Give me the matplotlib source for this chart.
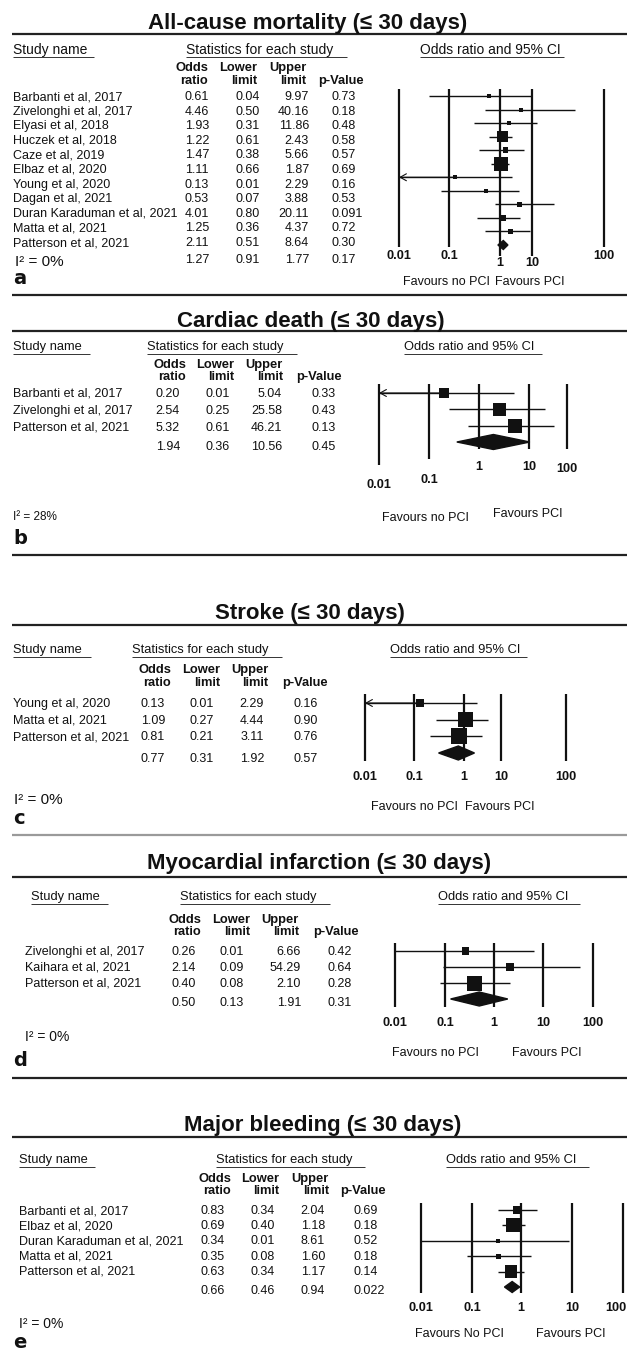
import numpy as np
import matplotlib
matplotlib.use('Agg')
from matplotlib import pyplot as plt
from matplotlib import transforms as mtr

plt.rcParams['font.family'] = ['Liberation Sans', 'DejaVu Sans']

W, H = 627, 1353

# ---------------- data ----------------
ticks = [0.01, 0.1, 1, 10, 100]
tick_labels = ['0.01', '0.1', '1', '10', '100']

title_a = 'All-cause mortality (≤ 30 days)'
names_a = ['Barbanti et al, 2017', 'Zivelonghi et al, 2017', 'Elyasi et al, 2018',
           'Huczek et al, 2018', 'Caze et al, 2019', 'Elbaz et al, 2020',
           'Young et al, 2020', 'Dagan et al, 2021', 'Duran Karaduman et al, 2021',
           'Matta et al, 2021', 'Patterson et al, 2021']
or_a = [0.61, 4.46, 1.93, 1.22, 1.47, 1.11, 0.13, 0.53, 4.01, 1.25, 2.11]
lo_a = [0.04, 0.50, 0.31, 0.61, 0.38, 0.66, 0.01, 0.07, 0.80, 0.36, 0.51]
hi_a = [9.97, 40.16, 11.86, 2.43, 5.66, 1.87, 2.29, 3.88, 20.11, 4.37, 8.64]
p_a = ['0.73', '0.18', '0.48', '0.58', '0.57', '0.69', '0.16', '0.53', '0.091', '0.72', '0.30']
pool_a = [1.27, 0.91, 1.77]
pool_p_a = '0.17'
i2_a = 'I² = 0%'
cut_a = [6]

title_b = 'Cardiac death (≤ 30 days)'
names_b = ['Barbanti et al, 2017', 'Zivelonghi et al, 2017', 'Patterson et al, 2021']
or_b = [0.20, 2.54, 5.32]
lo_b = [0.01, 0.25, 0.61]
hi_b = [5.04, 25.58, 46.21]
p_b = ['0.33', '0.43', '0.13']
pool_b = [1.94, 0.36, 10.56]
pool_p_b = '0.45'
i2_b = 'I² = 28%'
cut_b = [0]

title_c = 'Stroke (≤ 30 days)'
names_c = ['Young et al, 2020', 'Matta et al, 2021', 'Patterson et al, 2021']
or_c = [0.13, 1.09, 0.81]
lo_c = [0.01, 0.27, 0.21]
hi_c = [2.29, 4.44, 3.11]
p_c = ['0.16', '0.90', '0.76']
pool_c = [0.77, 0.31, 1.92]
pool_p_c = '0.57'
i2_c = 'I² = 0%'
cut_c = [0]

title_d = 'Myocardial infarction (≤ 30 days)'
names_d = ['Zivelonghi et al, 2017', 'Kaihara et al, 2021', 'Patterson et al, 2021']
or_d = [0.26, 2.14, 0.40]
lo_d = [0.01, 0.09, 0.08]
hi_d = [6.66, 54.29, 2.10]
p_d = ['0.42', '0.64', '0.28']
pool_d = [0.50, 0.13, 1.91]
pool_p_d = '0.31'
i2_d = 'I² = 0%'
cut_d = []

title_e = 'Major bleeding (≤ 30 days)'
names_e = ['Barbanti et al, 2017', 'Elbaz et al, 2020', 'Duran Karaduman et al, 2021',
           'Matta et al, 2021', 'Patterson et al, 2021']
or_e = [0.83, 0.69, 0.34, 0.35, 0.63]
lo_e = [0.34, 0.40, 0.01, 0.08, 0.34]
hi_e = [2.04, 1.18, 8.61, 1.60, 1.17]
p_e = ['0.69', '0.18', '0.52', '0.18', '0.14']
pool_e = [0.66, 0.46, 0.94]
pool_p_e = '0.022'
i2_e = 'I² = 0%'
cut_e = []

# ---------------- layout (pixels, y from top) ----------------
lay_a = dict(cx=308, ty=24, tline=34, hy=50, hx=[13, 186, 420], hul=[94, 347, 564], hfs=10,
             ch=(68, 81), cr=[208, 257, 306], pvx=318,
             rows=(97, 243), sy=260, nx=13, vr=[209, 260, 309], pxl=331,
             i2=(15, 262, 11), let='a', lx=13, lt=278, sep=(295, '#222'),
             tpx=[399, 449, 500, 532, 604], mrow=(96, 245), ltop=89,
             lbot=[247, 247, 256, 256, 247], laby=[256, 256, 263, 263, 256],
             fav=(446, 282, 530, 282), fav_no='Favours no PCI', dh=9, box=14)
lay_b = dict(cx=311, ty=321, tline=331, hy=347, hx=[13, 147, 404], hul=[90, 297, 542], hfs=9.3,
             ch=(365, 377), cr=[186, 234, 283], pvx=296,
             rows=(394, 428), sy=447, nx=13, vr=[180, 230, 282], pxl=311,
             i2=(13, 517, 8.5), let='b', lx=13, lt=538, sep=(555, '#222'),
             tpx=[379, 429, 479, 529, 567], mrow=(393, 442), ltop=384,
             lbot=[465, 459, 449, 449, 449], laby=[485, 480, 467, 467, 469],
             fav=(425, 518, 528, 514), fav_no='Favours no PCI', dh=15, box=14)
lay_c = dict(cx=310, ty=613, tline=625, hy=650, hx=[13, 132, 390], hul=[91, 282, 527], hfs=9.3,
             ch=(670, 683), cr=[171, 220, 268], pvx=282,
             rows=(704, 737), sy=759, nx=13, vr=[165, 214, 264], pxl=294,
             i2=(14, 800, 11), let='c', lx=13, lt=818, sep=(835, '#9a9a9a'),
             tpx=[365, 414, 464, 501, 566], mrow=(703, 753), ltop=694,
             lbot=[761] * 5, laby=[777] * 5,
             fav=(414, 807, 500, 807), fav_no='Favours no PCI', dh=14, box=16)
lay_d = dict(cx=319, ty=863, tline=877, hy=897, hx=[31, 180, 438], hul=[108, 330, 580], hfs=9.3,
             ch=(920, 932), cr=[201, 250, 299], pvx=313,
             rows=(952, 984), sy=1003, nx=25, vr=[196, 244, 301], pxl=327,
             i2=(25, 1037, 10), let='d', lx=13, lt=1060, sep=(1078, '#222'),
             tpx=[395, 445, 494, 543, 593], mrow=(951, 999), ltop=943,
             lbot=[1007] * 5, laby=[1023] * 5,
             fav=(435, 1053, 547, 1053), fav_no='Favours no PCI', dh=14, box=15)
lay_e = dict(cx=323, ty=1125, tline=1137, hy=1160, hx=[19, 216, 446], hul=[95, 365, 589], hfs=9.3,
             ch=(1179, 1191), cr=[231, 279, 329], pvx=340,
             rows=(1211, 1272), sy=1291, nx=19, vr=[225, 275, 325], pxl=353,
             i2=(19, 1324, 10), let='e', lx=13, lt=1343, sep=None,
             tpx=[421, 472, 521, 572, 623], mrow=(1210, 1287), ltop=1203,
             lbot=[1293] * 5, laby=[1308] * 5,
             fav=(459, 1334, 571, 1334), fav_no='Favours No PCI', dh=11, box=14)

fig = plt.figure(figsize=(W / 100, H / 100), dpi=100)
bg = fig.add_axes([0, 0, 1, 1])
bg.set_xlim(0, W)
bg.set_ylim(H, 0)
bg.axis('off')

INK = '#111111'


def log_funcs(px):
    # piecewise-linear log scale through the drawn decade lines
    dec = np.arange(-2, 3, dtype=float)
    px = np.asarray(px, float)
    xd = np.r_[-10.0, dec, 10.0]
    yd = np.r_[px[0] - 8 * (px[1] - px[0]), px, px[-1] + 8 * (px[-1] - px[-2])]

    def fwd(v):
        v = np.clip(np.asarray(v, float), 1e-12, None)
        return np.interp(np.log10(v), xd, yd)

    def inv(s):
        return 10 ** np.interp(np.asarray(s, float), yd, xd)
    return fwd, inv


def draw_panel(title, names, ors, los, his, ps, pool, pool_p, i2, cut, s):
    n = len(names)
    # title and rules
    bg.text(s['cx'], s['ty'], title, ha='center', va='center', fontsize=16,
            fontweight='bold', color=INK)
    bg.hlines(s['tline'], 12, W, color='#222', lw=1.6)
    for x, lab, ue in zip(s['hx'], ['Study name', 'Statistics for each study',
                                    'Odds ratio and 95% CI'], s['hul']):
        bg.text(x, s['hy'], lab, ha='left', va='center', fontsize=s['hfs'], color=INK)
        bg.hlines(s['hy'] + 6.5, x, ue, color='#333', lw=0.7)
    # column headers
    for r, (l1, l2) in zip(s['cr'], [('Odds', 'ratio'), ('Lower', 'limit'), ('Upper', 'limit')]):
        bg.text(r, s['ch'][0], l1, ha='right', va='center', fontsize=9.3, fontweight='bold', color=INK)
        bg.text(r, s['ch'][1], l2, ha='right', va='center', fontsize=9.3, fontweight='bold', color=INK)
    bg.text(s['pvx'], s['ch'][1], 'p-Value', ha='left', va='center', fontsize=9.3,
            fontweight='bold', color=INK)
    # table rows
    ys = np.linspace(s['rows'][0], s['rows'][1], n)
    for y, nm, o, lo, hi, p in zip(ys, names, ors, los, his, ps):
        bg.text(s['nx'], y, nm, ha='left', va='center', fontsize=9, color=INK)
        for xr, v in zip(s['vr'], [o, lo, hi]):
            bg.text(xr, y, f'{v:.2f}', ha='right', va='center', fontsize=9, color=INK)
        bg.text(s['pxl'], y, p, ha='left', va='center', fontsize=9, color=INK)
    for xr, v in zip(s['vr'], pool):
        bg.text(xr, s['sy'], f'{v:.2f}', ha='right', va='center', fontsize=9, color=INK)
    bg.text(s['pxl'], s['sy'], pool_p, ha='left', va='center', fontsize=9, color=INK)
    bg.text(s['i2'][0], s['i2'][1], i2, ha='left', va='center', fontsize=s['i2'][2], color=INK)
    bg.text(s['lx'], s['lt'], s['let'], ha='left', va='center',
            fontsize=14, fontweight='bold', family='DejaVu Sans', color=INK)
    if s['sep'] is not None:
        bg.hlines(s['sep'][0], 12, W, color=s['sep'][1], lw=1.6)
    bg.text(s['fav'][0], s['fav'][1], s['fav_no'], ha='center', va='center', fontsize=9, color=INK)
    bg.text(s['fav'][2], s['fav'][3], 'Favours PCI', ha='center', va='center', fontsize=9, color=INK)

    # forest plot
    x0, x1 = s['tpx'][0], s['tpx'][-1]
    y0, y1 = s['mrow']
    ax = fig.add_axes([x0 / W, 1 - y1 / H, (x1 - x0) / W, (y1 - y0) / H])
    fwd, inv = log_funcs(s['tpx'])
    ax.set_xscale('function', functions=(fwd, inv))
    ax.set_xlim(ticks[0], ticks[-1])
    ax.set_ylim(n, 0)
    ax.axis('off')
    tr = mtr.blended_transform_factory(ax.transData, bg.transData)
    ax.vlines(ticks, s['ltop'], s['lbot'], colors=INK, lw=1.6, transform=tr, clip_on=False)
    for t, lab, ly in zip(ticks, tick_labels, s['laby']):
        # keep the last label inside the figure edge
        ha = 'center'
        if fwd(t) + 11 > W:
            ha = 'right'
            lab_x = inv(W - 1)
        else:
            lab_x = t
        ax.text(lab_x, ly, lab, transform=tr, ha=ha, va='center', fontsize=9.2,
                fontweight='bold', color=INK, clip_on=False)
    rows = np.arange(n)
    ors, los, his = np.array(ors), np.array(los), np.array(his)
    ax.hlines(rows, los, his, colors=INK, lw=1.0, clip_on=False)
    for i in cut:
        ax.annotate('', xy=(los[i], rows[i]), xytext=(ors[i], rows[i]),
                    arrowprops=dict(arrowstyle='->,head_length=0.45,head_width=0.25',
                                    lw=0.8, color=INK, shrinkA=0, shrinkB=0),
                    annotation_clip=False)
    w = 1 / ((np.log(his) - np.log(los)) / 3.92) ** 2
    side = np.maximum(4, s['box'] * np.sqrt(w / w.max()))
    ax.scatter(ors, rows, marker='s', s=(side * 0.72) ** 2, color=INK, linewidths=0,
               clip_on=False, zorder=3)
    row_px = (y1 - y0) / n
    hh = s['dh'] / 2 / row_px
    ax.fill([pool[1], pool[0], pool[2], pool[0]], [n, n - hh, n, n + hh], color=INK,
            clip_on=False, zorder=3)
    ax.set_xlim(ticks[0], ticks[-1])
    ax.set_ylim(n, 0)


draw_panel(title_a, names_a, or_a, lo_a, hi_a, p_a, pool_a, pool_p_a, i2_a, cut_a, lay_a)
draw_panel(title_b, names_b, or_b, lo_b, hi_b, p_b, pool_b, pool_p_b, i2_b, cut_b, lay_b)
draw_panel(title_c, names_c, or_c, lo_c, hi_c, p_c, pool_c, pool_p_c, i2_c, cut_c, lay_c)
draw_panel(title_d, names_d, or_d, lo_d, hi_d, p_d, pool_d, pool_p_d, i2_d, cut_d, lay_d)
draw_panel(title_e, names_e, or_e, lo_e, hi_e, p_e, pool_e, pool_p_e, i2_e, cut_e, lay_e)

plt.savefig('out.png', dpi=100)
